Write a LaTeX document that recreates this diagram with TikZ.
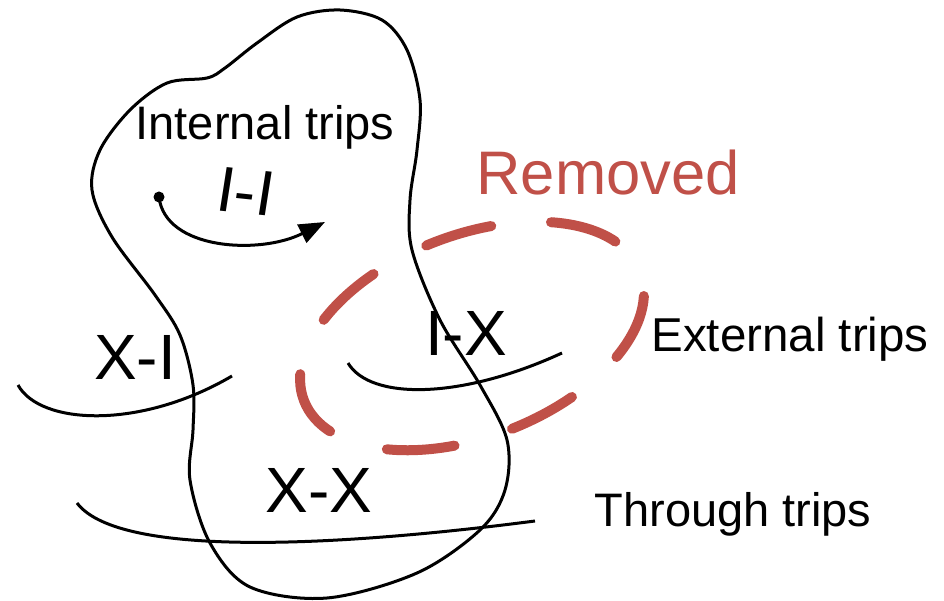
\documentclass[tikz,border=0pt]{standalone}
\usepackage{fontspec}
\setmainfont{Liberation Sans}
\usetikzlibrary{arrows.meta}
\definecolor{remred}{RGB}{192,80,72}
\begin{document}
\begin{tikzpicture}[x=1pt,y=-1pt,
  outline/.style={line width=3pt,black},
  trip/.style={line width=3pt,black},
  biglabel/.style={font=\fontsize{64}{70}\selectfont,inner sep=0pt},
  midlabel/.style={font=\fontsize{47}{52}\selectfont,inner sep=0pt},
  removedring/.style={remred,line width=10pt,line cap=round,dash pattern=on 68pt off 60pt}]
\useasboundingbox (0,0) rectangle (944,601);
% area boundary
\draw[outline] plot[smooth cycle,tension=0.55] coordinates {
 (340,10) (382,20) (407,50) (420,100) (417,150) (410,200) (412,250)
 (440,320) (480,385) (507,440) (505,490) (480,530) (417,573) (327,598)
 (250,587) (210,543) (190,480) (193,430) (193,385) (180,335) (155,295)
 (112,237) (92,190) (100,150) (130,110) (167,83) (207,78) (225,68) (257,43) (297,17)};
% trips
\draw[trip] (18,385) .. controls (40,425) and (140,430) .. (232,376);
\draw[trip] (348,363) .. controls (370,400) and (460,400) .. (562,353);
\draw[trip] (77,503) .. controls (120,560) and (350,545) .. (535,521);
% internal trip arrow
\node[circle,fill=black,inner sep=0pt,minimum size=11pt] (iistart) at (159,197) {};
\coordinate (iiend) at (325,222);
\draw[trip,-{Triangle[length=26pt,width=20pt]}] (iistart.center) .. controls (165,250) and (260,255) .. (iiend);
% removed ring
\draw[removedring,dash phase=103pt] (472,336) ellipse[x radius=180,y radius=101,rotate=21];
% labels
\node[midlabel] (internal) at (265,127) {Internal trips};
\node[font=\fontsize{64}{70}\selectfont,inner sep=0pt,text height=46pt,text depth=0pt,rotate=-6,xslant=0.05] (ii) at (246,191) {I-I};
\node[font=\fontsize{61.5}{66}\selectfont,inner sep=0pt,text=remred] (removed) at (608,173) {Removed};
\node[biglabel] (xi) at (135,357) {X-I};
\node[biglabel] (ix) at (466,333) {I-X};
\node[biglabel] (xx) at (319,490) {X-X};
\node[font=\fontsize{47.5}{52}\selectfont,inner sep=0pt] (external) at (790,339) {External trips};
\node[font=\fontsize{47}{52}\selectfont,inner sep=0pt] (through) at (733,514) {Through trips};
\end{tikzpicture}
\end{document}
